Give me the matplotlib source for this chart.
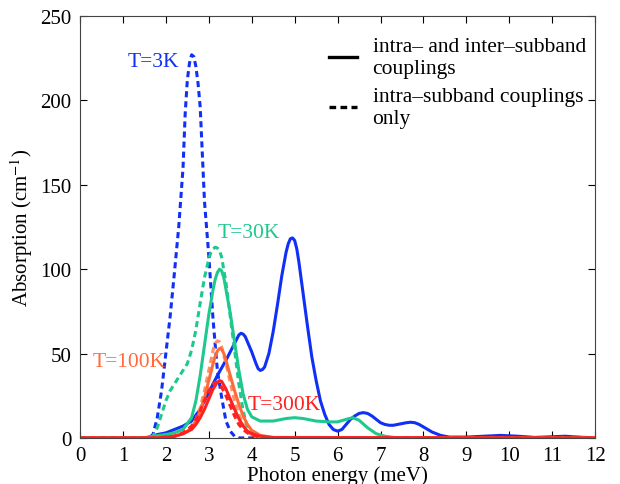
import matplotlib
matplotlib.use('Agg')
import matplotlib.pyplot as plt
from matplotlib.lines import Line2D

plt.rcParams['font.family'] = 'Liberation Serif'
plt.rcParams['mathtext.fontset'] = 'stix'

# T=3K, intra- and inter-subband couplings (solid blue)
x_3k = [0, 1.5, 1.7, 1.8, 2.0, 2.2, 2.4, 2.6, 2.8, 3.0, 3.2, 3.4, 3.5, 3.6, 3.7,
        3.75, 3.8, 3.85, 3.9, 4.0, 4.1, 4.15, 4.2, 4.25, 4.3, 4.4, 4.5, 4.6,
        4.7, 4.8, 4.85, 4.9, 4.95, 5.0, 5.05, 5.1, 5.2, 5.3, 5.4, 5.5, 5.6,
        5.7, 5.8, 5.9, 6.0, 6.1, 6.2, 6.3, 6.4, 6.5, 6.6, 6.7, 6.8, 6.9, 7.0,
        7.1, 7.2, 7.3, 7.4, 7.5, 7.6, 7.7, 7.8, 7.9, 8.0, 8.2, 8.4, 8.6, 9.0,
        9.4, 9.8, 10.2, 10.6, 11.0, 11.3, 11.6, 12]
y_3k = [0, 0, 1, 2, 3, 5, 7, 10, 17, 27, 37, 46, 51, 56, 61,
        62, 61.5, 60, 57, 51, 44, 41, 40, 40.5, 42, 50, 63, 79,
        96, 110, 115, 118, 118.5, 117, 112, 104, 85, 66, 48, 34, 22,
        14, 8, 5, 4, 5, 8, 11, 13, 14.5, 15, 14.5, 13, 11, 9,
        8, 7.5, 7.5, 8, 8.5, 9, 9.3, 9, 8, 6.5, 3.5, 1.5, 0.5, 0.5,
        1, 1.5, 1, 0.3, 0.7, 1, 0.5, 0]

# T=3K, intra-subband couplings only (dashed blue)
x_3k_d = [0, 1.6, 1.7, 1.8, 1.9, 2.0, 2.1, 2.2, 2.3, 2.4, 2.45, 2.5, 2.55, 2.6,
          2.65, 2.7, 2.75, 2.8, 2.85, 2.9, 3.0, 3.1, 3.2, 3.3, 3.4, 3.5, 3.6,
          3.7, 12]
y_3k_d = [0, 0, 2, 12, 28, 50, 72, 98, 125, 160, 192, 212, 222, 227,
          226, 220, 210, 196, 168, 140, 108, 70, 40, 24, 10, 4, 1,
          0, 0]

# T=30K (green)
x_30k = [0, 1.5, 1.7, 2.0, 2.2, 2.4, 2.6, 2.7, 2.8, 2.9, 3.0, 3.1, 3.15, 3.2,
         3.25, 3.3, 3.35, 3.4, 3.5, 3.6, 3.7, 3.8, 3.9, 4.0, 4.2, 4.5, 4.8,
         5.0, 5.2, 5.5, 5.8, 6.0, 6.2, 6.35, 6.5, 6.7, 6.9, 7.1, 7.4, 8, 12]
y_30k = [0, 0, 1, 2, 3, 5, 12, 22, 37, 55, 73, 88, 94, 98,
         100, 99, 95, 88, 74, 57, 40, 26, 17, 12.5, 10, 10, 11.5,
         12, 11.5, 10, 9.5, 9.5, 11, 12, 10.5, 6, 2.5, 1, 0, 0, 0]
x_30k_d = [0, 1.5, 1.7, 1.8, 1.9, 2.0, 2.1, 2.2, 2.3, 2.4, 2.5, 2.6, 2.7, 2.8,
           2.9, 3.0, 3.05, 3.1, 3.15, 3.2, 3.25, 3.3, 3.4, 3.5, 3.6, 3.7, 3.8,
           3.9, 4.0, 4.2, 12]
y_30k_d = [0, 0, 1, 6, 14, 22, 28, 32, 36, 40, 44, 52, 64, 80,
           95, 106, 110, 112, 113, 112.5, 111, 107, 92, 72, 52, 32, 16,
           6, 2, 0, 0]

# T=100K (orange)
x_100k = [0, 1.8, 2.0, 2.2, 2.4, 2.5, 2.6, 2.7, 2.8, 2.9, 3.0, 3.1, 3.15, 3.2,
          3.25, 3.3, 3.35, 3.4, 3.5, 3.6, 3.7, 3.8, 3.9, 4.0, 4.2, 4.5, 12]
y_100k = [0, 0, 0.5, 1, 2.5, 4, 6, 10, 16, 24, 34, 44, 48.5, 51.5,
          53, 52.5, 50, 46, 37, 28, 20, 13, 8, 4.5, 1.5, 0.3, 0]
x_100k_d = [0, 1.8, 2.0, 2.2, 2.4, 2.5, 2.6, 2.7, 2.8, 2.9, 3.0, 3.1, 3.15, 3.2,
            3.25, 3.3, 3.4, 3.5, 3.6, 3.7, 3.8, 3.9, 4.0, 4.2, 4.5, 12]
y_100k_d = [0, 0, 0.5, 1, 2.5, 4, 7, 11, 18, 28, 40, 52, 56, 57.5,
            57, 54, 44, 33, 22, 14, 8, 4, 2, 0.5, 0, 0]

# T=300K (red)
x_300k = [0, 1.8, 2.0, 2.2, 2.4, 2.6, 2.7, 2.8, 2.9, 3.0, 3.1, 3.2, 3.25, 3.3,
          3.4, 3.5, 3.6, 3.7, 3.8, 3.9, 4.0, 4.2, 4.5, 12]
y_300k = [0, 0, 0.5, 1, 2.5, 5, 8, 12, 17, 23, 29, 33, 34, 33.5,
          29, 23, 17, 11.5, 7, 4, 2.5, 1, 0.2, 0]
x_300k_d = [0, 1.8, 2.0, 2.2, 2.4, 2.6, 2.7, 2.8, 2.9, 3.0, 3.1, 3.15, 3.2, 3.3,
            3.4, 3.5, 3.6, 3.7, 3.8, 3.9, 4.0, 4.2, 4.5, 12]
y_300k_d = [0, 0, 0.5, 1, 3, 7, 11, 16, 22, 28, 32, 33, 32.5, 30,
            25, 19, 13, 8, 5, 3, 1.5, 0.5, 0, 0]

c_blue = '#1030f5'
c_green = '#1fc88c'
c_orange = '#ff6a3a'
c_orange_d = '#ff9060'
c_red = '#ff2020'

lw = 2.2
dash = (2.0, 1.3)

fig = plt.figure(figsize=(6.2, 4.85), dpi=100)
ax = fig.add_axes([0.129, 0.095, 0.831, 0.870])

ax.plot(x_3k_d, y_3k_d, color=c_blue, lw=lw, dashes=dash)
ax.plot(x_3k, y_3k, color=c_blue, lw=lw)
ax.plot(x_30k_d, y_30k_d, color=c_green, lw=lw, dashes=dash)
ax.plot(x_30k, y_30k, color=c_green, lw=lw)
ax.plot(x_100k_d, y_100k_d, color=c_orange_d, lw=lw, dashes=dash)
ax.plot(x_100k, y_100k, color=c_orange, lw=lw)
ax.plot(x_300k, y_300k, color=c_red, lw=lw)
ax.plot(x_300k_d, y_300k_d, color=c_red, lw=lw, dashes=dash)

ax.text(1.12, 223, 'T=3K', color=c_blue, fontsize=15.5, va='center')
ax.text(3.2, 122, 'T=30K', color=c_green, fontsize=15.5, va='center')
ax.text(0.3, 45, 'T=100K', color=c_orange, fontsize=15.5, va='center')
ax.text(3.9, 20, 'T=300K', color=c_red, fontsize=15.5, va='center')

ax.set_xlim(0, 12)
ax.set_ylim(0, 250)
ax.set_xticks(range(0, 13))
ax.set_yticks(range(0, 251, 50))
ax.tick_params(direction='in', top=True, right=True, labelsize=15, length=5, pad=6)
for s in ax.spines.values():
    s.set_linewidth(0.8)
    s.set_color('#444444')

ax.set_xlabel('Photon energy (meV)', fontsize=15, labelpad=0)
ax.set_ylabel('Absorption (cm$^{-1}$)', fontsize=15, labelpad=4)

handles = [Line2D([], [], color='black', lw=2.4),
           Line2D([], [], color='black', lw=2.4, dashes=dash)]
labels = ['intra\u2013 and inter\u2013subband\ncouplings',
          'intra\u2013subband couplings\nonly']
ax.legend(handles, labels, loc='upper left', bbox_to_anchor=(0.455, 0.985),
          frameon=False, fontsize=15.5, handlelength=1.3, handletextpad=0.7,
          labelspacing=0.4, borderaxespad=0.3)

fig.savefig('out.png', dpi=100)
